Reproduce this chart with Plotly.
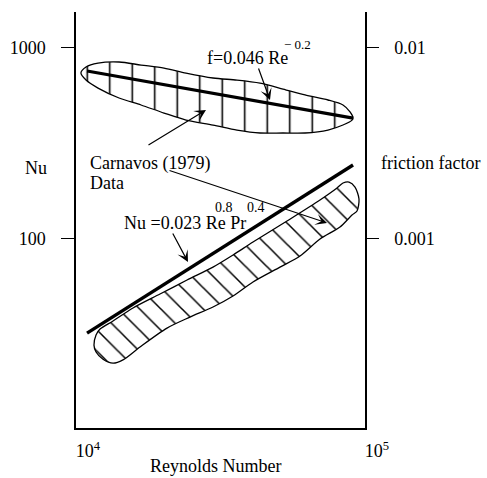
import plotly.graph_objects as go

# ---------------- data ----------------
# Carnavos (1979) friction-factor data band (closed outline)
fric_re = [10400, 10830, 11920, 14090, 16790, 20160, 24030, 29790, 36060, 43320,
           52040, 62010, 74470, 83910, 88760, 90910, 90180, 83910, 74470, 62010,
           52040, 43320, 36060, 29790, 24030, 20160, 16790, 14090, 11920, 10830, 10400]
fric_f = [7.33e-3, 7.89e-3, 8.27e-3, 8.38e-3, 8.08e-3, 7.79e-3, 7.33e-3, 6.91e-3, 6.74e-3, 6.50e-3,
          6.05e-3, 5.63e-3, 5.30e-3, 4.99e-3, 4.59e-3, 4.26e-3, 4.16e-3, 3.92e-3, 3.69e-3, 3.56e-3,
          3.56e-3, 3.56e-3, 3.69e-3, 3.92e-3, 4.16e-3, 4.53e-3, 4.99e-3, 5.43e-3, 6.12e-3, 6.74e-3, 7.33e-3]

# Carnavos (1979) Nusselt data band (closed outline)
nu_re = [11540, 11730, 12110, 13430, 15750, 19530, 24220, 29790, 34940, 40970,
         53710, 69870, 80010, 83930, 88030, 92350, 95330, 93830, 90160, 81940,
         69870, 59590, 50800, 40970, 34940, 29790, 24800, 20650, 16650, 14540,
         13430, 12400, 11730, 11540]
nu_val = [27.6, 31.2, 33.5, 36.9, 43.2, 51.1, 60.5, 70.7, 81.8, 95.6,
          123.2, 158.7, 183.4, 194.8, 197.2, 185.6, 160.6, 139.0, 132.4, 114.6,
          99.2, 80.8, 70.7, 59.1, 49.9, 43.7, 38.7, 33.9, 27.0, 23.1,
          22.2, 23.3, 25.4, 27.6]

# correlation lines (end points)
corr_re = [10920, 90910]
corr_nu = [31.9, 242.0]          # Nu = 0.023 Re^0.8 Pr^0.4
corr_f = [7.52e-3, 4.26e-3]      # f = 0.046 Re^-0.2

x_tickvals = [1e4, 1e5]
x_ticktext = ["10<sup>4</sup>", "10<sup>5</sup>"]
y_tickvals = [100, 1000]
y_ticktext = ["100", "1000"]
y2_tickvals = [0.001, 0.01]
y2_ticktext = ["0.001", "0.01"]

# ---------------- figure ----------------
FONT = "Liberation Serif"
fig = go.Figure()

fig.add_trace(go.Scatter(
    x=fric_re, y=fric_f, yaxis="y2", mode="lines",
    line=dict(color="black", width=1.3, shape="spline", smoothing=0.8),
    fill="toself", fillcolor="white",
    fillpattern=dict(shape="|", size=22.5, solidity=0.07, fgcolor="black", bgcolor="white"),
    hoverinfo="skip", showlegend=False))

fig.add_trace(go.Scatter(
    x=nu_re, y=nu_val, mode="lines",
    line=dict(color="black", width=1.3, shape="spline", smoothing=0.8),
    fill="toself", fillcolor="white",
    fillpattern=dict(shape="\\", size=15, solidity=0.1, fgcolor="black", bgcolor="white"),
    hoverinfo="skip", showlegend=False))

fig.add_trace(go.Scatter(
    x=corr_re, y=corr_f, yaxis="y2", mode="lines",
    line=dict(color="black", width=3.2), hoverinfo="skip", showlegend=False))

fig.add_trace(go.Scatter(
    x=corr_re, y=corr_nu, mode="lines",
    line=dict(color="black", width=3.4), hoverinfo="skip", showlegend=False))

fig.update_layout(
    width=487, height=478,
    margin=dict(l=76, r=122, t=12, b=50),
    paper_bgcolor="white", plot_bgcolor="white",
    template="none",
    font=dict(family=FONT, size=18, color="black"),
    xaxis=dict(type="log", range=[4, 5], showgrid=False, zeroline=False,
               showline=True, linecolor="black", linewidth=1.5,
               ticks="", tickvals=x_tickvals, ticktext=x_ticktext,
               ticklabelshift=12, ticklabelstandoff=6,
               tickfont=dict(family=FONT, size=18, color="black")),
    yaxis=dict(type="log", range=[1.007, 3.185], showgrid=False, zeroline=False,
               showline=True, linecolor="black", linewidth=1.5,
               ticks="outside", ticklen=13, tickwidth=1.3, tickcolor="black",
               tickvals=y_tickvals, ticktext=y_ticktext, ticklabelstandoff=12,
               tickfont=dict(family=FONT, size=18, color="black")),
    yaxis2=dict(type="log", range=[-3.993, -1.815], overlaying="y", side="right",
                showgrid=False, zeroline=False,
                showline=True, linecolor="black", linewidth=1.5,
                ticks="outside", ticklen=12, tickwidth=1.3, tickcolor="black",
                tickvals=y2_tickvals, ticktext=y2_ticktext, ticklabelstandoff=12,
                tickfont=dict(family=FONT, size=18, color="black")),
)

def text(x, y, s, size=18, xanchor="left"):
    fig.add_annotation(x=x, y=y, xref="paper", yref="paper", text=s, showarrow=False,
                       xanchor=xanchor, yanchor="middle",
                       font=dict(family=FONT, size=size, color="black"))

def arrow(x, y, ax, ay):
    fig.add_annotation(x=x, y=y, xref="paper", yref="paper", ax=ax, ay=ay,
                       text="", showarrow=True, arrowhead=3, arrowsize=1.6,
                       arrowwidth=1.2, arrowcolor="black", standoff=0, startstandoff=0)

# axis titles
text(-0.138, 0.625, "Nu", xanchor="center")
text(1.225, 0.637, "friction factor", xanchor="center")
text(0.481, -0.091, "Reynolds Number", xanchor="center")

# labels
text(0.4464, 0.8894, "f=0.046 Re")
text(0.712, 0.9207, "\u2212 0.2", size=13)
text(0.0415, 0.6370, "Carnavos (1979)")
text(0.0415, 0.5890, "Data")
text(0.1592, 0.4928, "Nu =0.023 Re Pr")
text(0.474, 0.531, "0.8", size=14)
text(0.585, 0.531, "0.4", size=14)

# arrows
arrow(0.6713, 0.7885, -12, -33)
arrow(0.4498, 0.7644, -59, 36)
arrow(0.8685, 0.4928, -159, -53)
arrow(0.3875, 0.3990, -16, -30)

fig.write_html("out.html")
